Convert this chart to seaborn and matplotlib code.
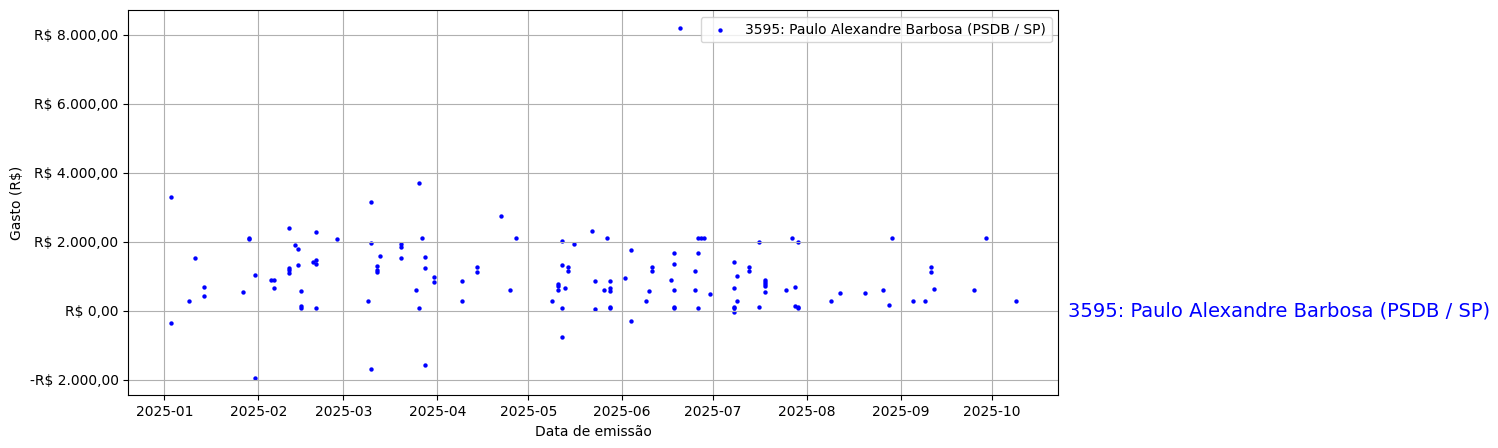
import pandas as pd
import matplotlib
matplotlib.use("Agg")
import matplotlib.pyplot as plt
import matplotlib.transforms as mtransforms
from matplotlib.ticker import FuncFormatter
import seaborn as sns

# --- Dados ---
deputado = "3595: Paulo Alexandre Barbosa (PSDB / SP)"

datas = [
    "2025-01-03", "2025-01-03", "2025-01-09", "2025-01-11", "2025-01-14", "2025-01-14",
    "2025-01-27", "2025-01-29", "2025-01-29", "2025-01-31", "2025-01-31",
    "2025-02-05", "2025-02-06", "2025-02-06",
    "2025-02-11", "2025-02-11", "2025-02-11", "2025-02-11",
    "2025-02-13", "2025-02-14", "2025-02-14",
    "2025-02-15", "2025-02-15", "2025-02-15", "2025-02-19",
    "2025-02-20", "2025-02-20", "2025-02-20", "2025-02-20", "2025-02-27",
    "2025-03-09", "2025-03-10", "2025-03-10", "2025-03-10",
    "2025-03-12", "2025-03-12", "2025-03-12", "2025-03-13",
    "2025-03-20", "2025-03-20", "2025-03-20", "2025-03-25",
    "2025-03-26", "2025-03-26", "2025-03-27",
    "2025-03-28", "2025-03-28", "2025-03-28", "2025-03-31", "2025-03-31",
    "2025-04-09", "2025-04-09", "2025-04-14", "2025-04-14",
    "2025-04-22", "2025-04-25", "2025-04-27",
    "2025-05-09", "2025-05-11", "2025-05-11", "2025-05-11",
    "2025-05-12", "2025-05-12", "2025-05-12", "2025-05-12", "2025-05-13",
    "2025-05-14", "2025-05-14", "2025-05-16", "2025-05-22", "2025-05-23", "2025-05-23",
    "2025-05-26", "2025-05-27",
    "2025-05-28", "2025-05-28", "2025-05-28", "2025-05-28", "2025-05-28",
    "2025-06-02", "2025-06-04", "2025-06-04", "2025-06-09", "2025-06-10",
    "2025-06-11", "2025-06-11", "2025-06-17",
    "2025-06-18", "2025-06-18", "2025-06-18", "2025-06-18", "2025-06-18",
    "2025-06-20", "2025-06-25", "2025-06-25",
    "2025-06-26", "2025-06-26", "2025-06-26", "2025-06-27", "2025-06-28", "2025-06-30",
    "2025-07-08", "2025-07-08", "2025-07-08", "2025-07-08", "2025-07-08",
    "2025-07-09", "2025-07-09", "2025-07-13", "2025-07-13",
    "2025-07-16", "2025-07-16",
    "2025-07-18", "2025-07-18", "2025-07-18", "2025-07-18", "2025-07-18",
    "2025-07-25", "2025-07-27", "2025-07-28", "2025-07-28",
    "2025-07-29", "2025-07-29", "2025-07-29",
    "2025-08-09", "2025-08-12", "2025-08-20", "2025-08-26", "2025-08-28", "2025-08-29",
    "2025-09-05", "2025-09-09", "2025-09-11", "2025-09-11", "2025-09-12",
    "2025-09-25", "2025-09-29", "2025-10-09",
]

gastos = [
    3300, -350, 280, 1530, 690, 430,
    540, 2080, 2110, 1035, -1950,
    890, 890, 660,
    2400, 1240, 1180, 1090,
    1900, 1790, 1325,
    570, 125, 80, 1410,
    2280, 1470, 1355, 80, 2080,
    280, 3150, 1960, -1690,
    1295, 1180, 1120, 1585,
    1930, 1845, 1525, 600,
    3700, 80, 2110,
    1555, 1235, -1575, 975, 830,
    860, 280, 1265, 1120,
    2745, 600, 2110,
    280, 775, 715, 600,
    2020, 1325, 80, -760, 660,
    1265, 1150, 1930, 2310, 860, 50,
    600, 2110,
    860, 660, 570, 115, 85,
    950, 1760, -300, 280, 570,
    1265, 1150, 890,
    1670, 1355, 600, 105, 80,
    8200, 600, 1150,
    2110, 1670, 80, 2110, 2110, 485,
    1410, 660, 105, 80, -40,
    1005, 280, 1265, 1150,
    1990, 105,
    890, 830, 775, 715, 540,
    600, 2110, 690, 135,
    105, 80, 1990,
    280, 515, 515, 600, 165, 2110,
    280, 280, 1265, 1120, 630,
    600, 2110, 280,
]

df = pd.DataFrame({"data": pd.to_datetime(datas), "gasto": gastos})


def reais(v, pos):
    s = f"{abs(v):,.2f}".replace(",", "X").replace(".", ",").replace("X", ".")
    return f"-R$ {s}" if v < 0 else f"R$ {s}"


fig = plt.figure(figsize=(14.98, 4.48), dpi=100)
ax = fig.add_axes([0.0856, 0.1176, 0.6210, 0.8594])

sns.scatterplot(data=df, x="data", y="gasto", ax=ax, color="blue",
                s=10, linewidth=0, label=deputado)

ax.grid(True)
ax.yaxis.set_major_formatter(FuncFormatter(reais))
ax.set_xlabel("Data de emissão")
ax.set_ylabel("Gasto (R$)")
ax.legend(loc="upper right")

# rótulo do deputado à direita do gráfico, na altura do zero
trans = mtransforms.blended_transform_factory(ax.transAxes, ax.transData)
ax.text(1.01, 0, deputado, transform=trans, color="blue",
        fontsize=14, va="center", ha="left")

fig.savefig("out.png", dpi=100)
plt.close(fig)
